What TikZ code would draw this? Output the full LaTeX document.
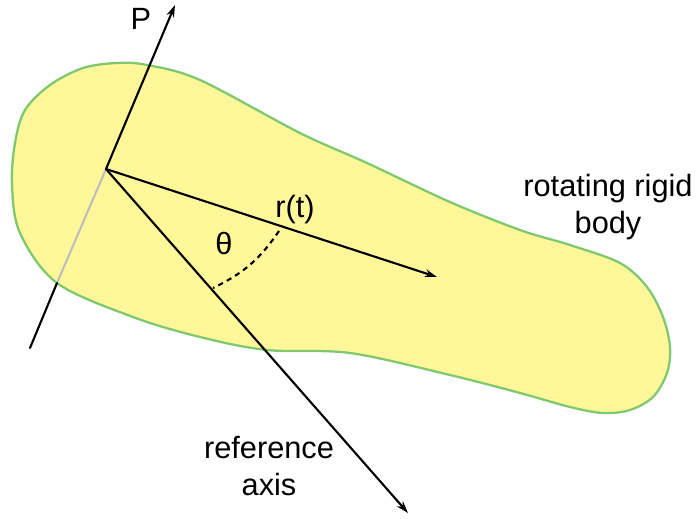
\documentclass[tikz,border=0pt]{standalone}
\usepackage{fontspec}
\setmainfont{Liberation Sans}
\usetikzlibrary{arrows.meta}
\definecolor{bodyfill}{RGB}{255,247,153}
\definecolor{bodyline}{RGB}{128,200,110}
\definecolor{hidden}{RGB}{190,190,190}
\tikzset{
  axisline/.style={line width=1.2pt,line cap=round},
  tip/.style={-{Stealth[length=7pt,width=4.5pt]}},
  lbl/.style={font=\fontsize{17.5}{21}\selectfont,align=center,inner sep=0pt}
}
\begin{document}
\begin{tikzpicture}[x=0.02cm,y=-0.02cm]
\useasboundingbox (0,0) rectangle (700,518);
% the body
\draw[bodyline,fill=bodyfill,line width=1.3pt] plot[smooth cycle,tension=0.55] coordinates {
  (12,185) (20,233) (57,283) (133,317) (200,337) (267,350) (350,353)
  (450,375) (520,393) (570,407) (603,413) (630,410) (653,397) (667,373)
  (670,347) (663,317) (647,287) (620,263) (570,245) (520,230) (450,202)
  (367,163) (300,133) (200,80) (147,65) (117,63) (83,68) (50,85)
  (25,110) (15,143)};
\coordinate (O) at (106,169);
\coordinate (Ptop) at (175,5);
\coordinate (Pbot) at (30,348);
\coordinate (Pexit) at (57,283);
\coordinate (rend) at (437,277);
\coordinate (refend) at (408,513);
\coordinate (arcA) at (279,231);
\coordinate (arcB) at (213,288);
% axes
\draw[axisline,tip] (O) -- (Ptop);
\draw[axisline,hidden] (O) -- (Pexit);
\draw[axisline] (Pexit) -- (Pbot);
\draw[axisline,tip] (O) -- (rend);
\draw[axisline,tip] (O) -- (refend);
\draw[line width=1.2pt,dash pattern=on 3pt off 2.5pt] (arcA) to[bend left=15] (arcB);
% labels
\node[lbl] (p) at (141,19) {P};
\node[lbl] (r) at (295,210) {r(t)};
\node[lbl] (theta) at (224,244) {θ};
\node[lbl] (body) at (608,207) {rotating rigid\\body};
\node[lbl] (ref) at (269,466) {reference\\axis};
\end{tikzpicture}
\end{document}
